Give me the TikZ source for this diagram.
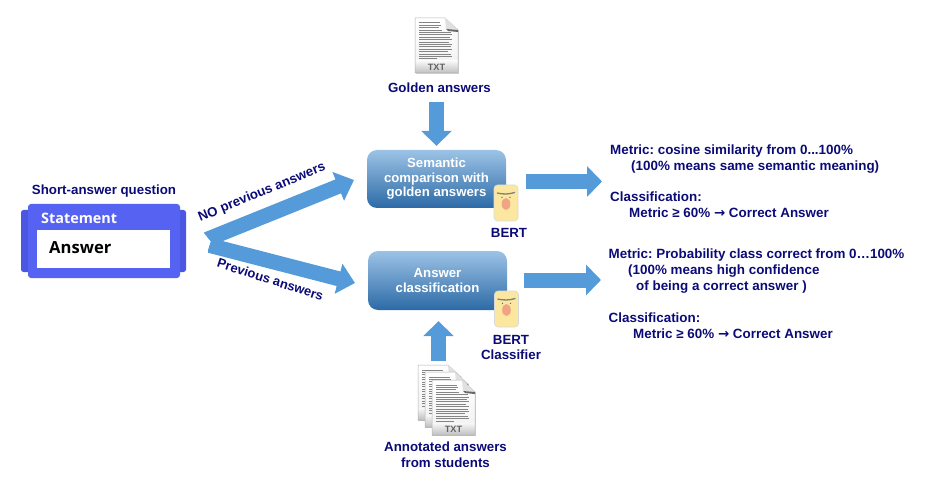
\documentclass[tikz,border=0pt]{standalone}
\usepackage{fontspec}
\setmainfont{Liberation Sans}
\newfontfamily\uifont{Open Sans}
\newfontfamily\arrowfont{DejaVu Sans}
\newcommand{\heavyarrow}{{\arrowfont\bfseries →}}
\frenchspacing
\usetikzlibrary{arrows.meta,shapes.geometric}
\definecolor{navytext}{HTML}{0B0B78}
\definecolor{arrowblue}{HTML}{559BD9}
\definecolor{boxtop}{HTML}{9CC3E6}
\definecolor{boxbot}{HTML}{2C6AA6}
\definecolor{qblue}{HTML}{5663F2}
\definecolor{qside}{HTML}{4B57E2}
\definecolor{faceyellow}{HTML}{FBE79F}
\definecolor{facenose}{HTML}{EFA585}
\tikzset{
  lab/.style={font=\fontsize{13.3}{15}\selectfont\bfseries,text=navytext,inner sep=0pt},
  info/.style={lab,anchor=west,font=\fontsize{13.4}{15}\selectfont\bfseries},
  proc/.style={rectangle,rounded corners=10pt,minimum width=139pt,minimum height=58pt,top color=boxtop,bottom color=boxbot,draw=none,inner sep=0pt,align=center,text=white,font=\fontsize{13.2}{14.6}\selectfont\bfseries},
  blockarrow/.style={line width=15pt,draw=arrowblue,-{Triangle[length=15pt,width=30pt]}},
  forkarrow/.style={line width=15pt,draw=arrowblue,-{Triangle[length=17pt,width=30pt]}},
  txtdoc/.pic={
    \fill[black!18] (0.8,0.8) -- (31,0.8) -- (43.8,13) -- (43.8,55.8) -- (0.8,55.8) -- cycle;
    \shade[top color=white,bottom color=black!6] (0,0) -- (30,0) -- (43,12) -- (43,55) -- (0,55) -- cycle;
    \shade[top color=black!3,bottom color=black!25] (0,43) rectangle (43,55);
    \draw[black!30,line width=.5pt] (0,0) -- (30,0) -- (43,12) -- (43,55) -- (0,55) -- cycle;
    \fill[black!12] (30,0) -- (31,11) -- (43,12) -- cycle;
    \fill[black!60] (31,11) -- (43,12) -- (43,14) -- (33,13) -- cycle;
    \foreach \yy/\xx in {5/25,7.4/26,9.8/24,12.2/27,14.6/36,17/37,19.4/35,21.8/37,24.2/34,26.6/37,29/36,31.4/37,33.8/33,36.2/36,38.6/37,41/22}
      \draw[black!48,line width=1pt] (4,\yy) -- (\xx,\yy);
    \node[inner sep=0pt,text=black!62,font=\fontsize{9.2}{10}\selectfont\bfseries] at (21.5,49) {TXT};
  },
  robot/.pic={
    \fill[fill=faceyellow,draw=black!15,line width=.6pt,rounded corners=3.5pt] (0,0) rectangle (24,36);
    \draw[black!50,line width=1.3pt] (3,8) .. controls (9,9.4) and (15,9.4) .. (21,7.4);
    \fill[black!60] (8,12.4) circle (.7);
    \fill[black!60] (16,12.4) circle (.7);
    \fill[facenose] (12,19) ellipse (4.3 and 6);
  },
}
\begin{document}
\begin{tikzpicture}[x=1pt,y=-1pt]
\useasboundingbox (0,0) rectangle (930,500);
% question block
\fill[qside,rounded corners=2.5pt] (21,210) rectangle (186,272);
\node[draw=none,fill=qblue,rounded corners=3pt,minimum width=152pt,minimum height=74pt,inner sep=0pt] (question) at (104,241) {};
\node[fill=white,minimum width=133pt,minimum height=38pt,inner sep=0pt] (answerbox) at (103.5,249) {};
\node[inner sep=0pt,anchor=west,text=white,font=\uifont\fontsize{14.4}{16}\selectfont\bfseries] (statement) at (41,218.5) {Statement};
\node[inner sep=0pt,anchor=west,text=black,font=\uifont\fontsize{16.6}{18}\selectfont\bfseries] (answertxt) at (49,247.5) {Answer};
\node[lab] (qtitle) at (104,191) {Short-answer question};
% process boxes
\node[proc] (sem) at (436.5,179) {\rule{0pt}{1.5pt}Semantic\\comparison with\\golden answers};
\node[proc,minimum height=59pt] (cls) at (437.5,280.5) {Answer\\classification};
% icons
\pic at (415,18) {txtdoc};
\pic at (418,365) {txtdoc};
\pic at (425,372) {txtdoc};
\pic at (432,380) {txtdoc};
\pic at (494,185) {robot};
\pic at (494.5,291) {robot};
% labels
\node[lab] (golden) at (439.5,88) {Golden answers};
\node[lab] (bert1) at (509,233) {BERT};
\node[lab,align=center,font=\fontsize{13.3}{15.5}\selectfont\bfseries] (bert2) at (511,347.5) {BERT\\Classifier};
\node[lab,align=center,font=\fontsize{13.3}{15.5}\selectfont\bfseries] (annot) at (445.5,454.5) {Annotated answers\\from students};
\node[lab,rotate=22.5] (nolab) at (262,192.5) {NO previous answers};
\node[lab,rotate=-18,font=\fontsize{13}{14}\selectfont\bfseries] (prevlab) at (270.5,279.5) {Previous answers};
% metric text
\node[info] (m1) at (610,151.5) {Metric: cosine similarity from 0...100\%};
\node[info] (m2) at (631,167) {(100\% means same semantic meaning)};
\node[info] (m3) at (610,197) {Classification:};
\node[info] (m4) at (629,213) {Metric ≥ 60\% \heavyarrow{} Correct Answer};
\node[info] (n1) at (608.5,255) {Metric: Probability class correct from 0…100\%};
\node[info] (n2) at (628,271) {(100\% means high confidence};
\node[info] (n3) at (636,287) {of being a correct answer )};
\node[info] (n4) at (608.5,318) {Classification:};
\node[info] (n5) at (633,334) {Metric ≥ 60\% \heavyarrow{} Correct Answer};
% connector anchors
\coordinate (goldenout) at (436.5,102);
\coordinate (annotout) at (438.5,361);
\coordinate (forkA) at (198,243);
\coordinate (forkB) at (198,242.4);
\coordinate (semin) at (354,180);
\coordinate (clsin) at (355,283);
\coordinate (semout) at (526,181.5);
\coordinate (semres) at (602,181.5);
\coordinate (clsout) at (524,280);
\coordinate (clsres) at (601,280);
% connectors
\draw[blockarrow,shorten >=4pt] (goldenout) -- (goldenout |- sem.north);
\draw[blockarrow,shorten >=11pt] (annotout) -- (annotout |- cls.south);
\begin{scope}
\clip (204,233) -- (211,241.5) -- (208,250) -- (208,320) -- (400,320) -- (400,150) -- (204,150) -- cycle;
\draw[forkarrow] (forkA) -- (semin);
\draw[forkarrow] (forkB) -- (clsin);
\end{scope}
\draw[blockarrow] (semout) -- (semres);
\draw[blockarrow] (clsout) -- (clsres);
\end{tikzpicture}
\end{document}
